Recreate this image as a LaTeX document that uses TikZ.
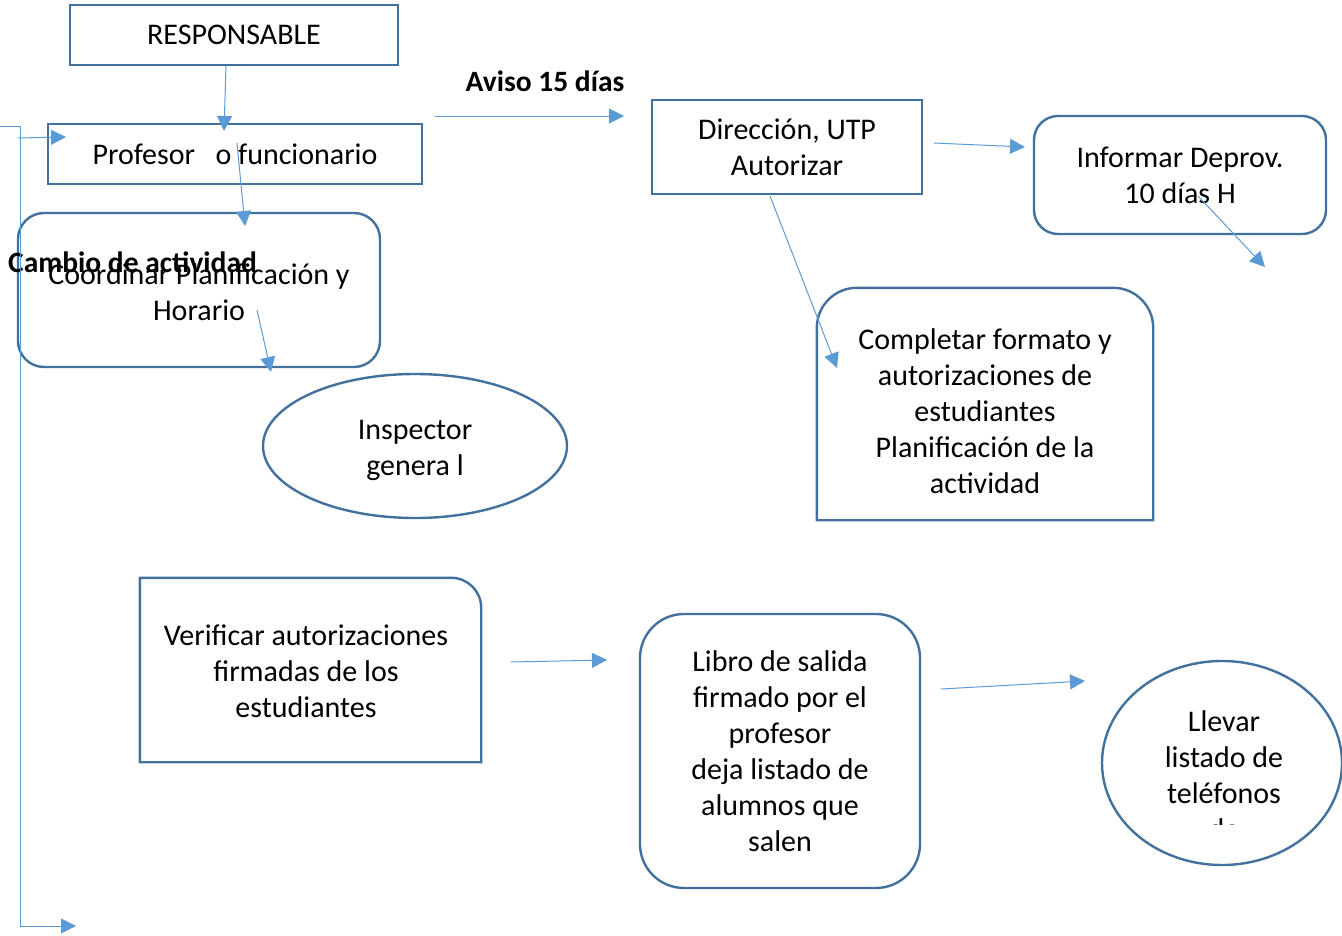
\documentclass[tikz,border=0pt]{standalone}
\usepackage{fontspec}
\setmainfont{Carlito}
\usetikzlibrary{arrows.meta,shapes.geometric}
\definecolor{boxblue}{HTML}{41719C}
\definecolor{linkblue}{HTML}{5B9BD5}
\begin{document}
\begin{tikzpicture}[x=1pt,y=-1pt,
    txt/.style={font=\fontsize{30}{36}\selectfont, align=center, inner sep=0pt},
    box/.style={txt, draw=boxblue, line width=2.4pt, minimum width=#1},
    plainbox/.style={txt, minimum width=#1},
    oval/.style={txt, ellipse, draw=boxblue, line width=2.4pt, inner sep=0pt},
    outline/.style={draw=boxblue, line width=2.4pt},
    link/.style={draw=linkblue, line width=1pt, -{Triangle[length=15pt,width=15pt]}},
    head/.style={font=\fontsize{29.5}{34}\selectfont\bfseries, inner sep=0pt}]
        \useasboundingbox (0,0) rectangle (1342,935);

        % boxes
        \node[box=328, minimum height=60] (resp) at (234,35) {RESPONSABLE};
        \node[box=374, minimum height=60] (prof) at (235,154) {Profesor\ \ \ o funcionario};
        \node[box=362, minimum height=154, rounded corners=26] (coord) at (199,290) {};
        \node[txt] (coordtxt) at (199,292) {Coordinar Planificación y\\Horario};
        \node[oval, minimum width=304, minimum height=144] (insp) at (415,446) {};
        \node[txt] (insptxt) at (415,450) {Inspector\\genera l};
        \node[box=270, minimum height=94] (dir) at (787,147) {Dirección, UTP\\Autorizar};
        \node[box=292, minimum height=118, rounded corners=24] (inf) at (1180,175) {Informar Deprov.\\10 días H};
        \node[plainbox=336, minimum height=232] (comp) at (985,404) {};
        \node[txt] (comptxt) at (985,411) {Completar formato y\\autorizaciones de\\estudiantes\\Planificación de la\\actividad};
        \node[plainbox=341, minimum height=184] (verif) at (310.5,670) {};
        \node[txt] (veriftxt) at (306,671) {Verificar autorizaciones\\firmadas de los\\estudiantes};
        \node[box=280, minimum height=274, rounded corners=44] (libro) at (780,751) {Libro de salida\\firmado por el\\profesor\\deja listado de\\alumnos que\\salen};
        \node[oval, minimum width=240, minimum height=204] (llevar) at (1222,763) {};
        \begin{scope}
            \clip (1100,690) rectangle (1342,824);
            \node[txt] (llevartxt) at (1224,775) {Llevar\\listado de\\teléfonos\\de};
        \end{scope}

        % shapes with some rounded corners
        \draw[outline] (comp.south west) {[rounded corners=40] -- (comp.north west) -- (comp.north east)} -- (comp.south east) -- cycle;
        \draw[outline] (verif.south west) -- (verif.north west) {[rounded corners=30] -- (verif.north east)} -- (verif.south east) -- cycle;

        % labels
        \node[head, anchor=west] (cambio) at (8,262) {Cambio de actividad};
        \node[head] (aviso) at (545,81) {Aviso 15 días};

        % arrow ends
        \coordinate (r1) at (226,66);   \coordinate (r2) at (224,131);
        \coordinate (p1) at (237,143);  \coordinate (p2) at (245,226);
        \coordinate (c1) at (257,310);  \coordinate (c2) at (271,372);
        \coordinate (a1) at (435,116);  \coordinate (a2) at (624,116);
        \coordinate (d1) at (934,143);  \coordinate (d2) at (1025,147);
        \coordinate (d3) at (770,196);  \coordinate (d4) at (837,368);
        \coordinate (h1) at (1198,196); \coordinate (h2) at (1265,267);
        \coordinate (v1) at (511,662);  \coordinate (v2) at (607,660);
        \coordinate (b1) at (941,689);  \coordinate (b2) at (1085,681);
        \coordinate (s0) at (0,126);    \coordinate (s1) at (20,126);
        \coordinate (s2) at (20,926);   \coordinate (s3) at (76,926);
        \coordinate (s4) at (18,138);   \coordinate (s5) at (66,137);

        % arrows
        \draw[link] (r1) -- (r2);
        \draw[link] (p1) -- (p2);
        \draw[link] (c1) -- (c2);
        \draw[link] (a1) -- (a2);
        \draw[link] (d1) -- (d2);
        \draw[link] (d3) -- (d4);
        \draw[link] (h1) -- (h2);
        \draw[link] (v1) -- (v2);
        \draw[link] (b1) -- (b2);
        \draw[link] (s0) -- (s1) -- (s2) -- (s3);
        \draw[link] (s4) -- (s5);
    \end{tikzpicture}
\end{document}
